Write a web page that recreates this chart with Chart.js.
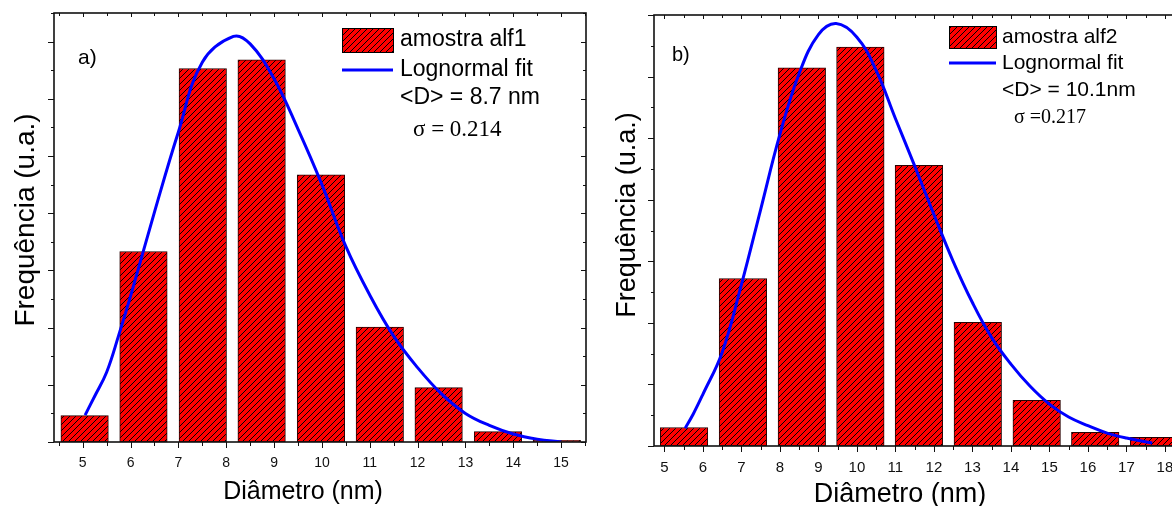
<!DOCTYPE html>
<html>
<head>
<meta charset="utf-8">
<script src="https://cdn.jsdelivr.net/npm/chart.js@4.4.0/dist/chart.umd.min.js"></script>
<style>
  html, body { margin: 0; padding: 0; background: #fff; overflow: hidden; width: 1172px; height: 506px; }
  .panel { position: absolute; top: 0; width: 600px; height: 506px; }
  #panelA { left: 0; }
  #panelB { left: 600px; }
</style>
</head>
<body>
<div class="panel" id="panelA"><canvas id="chartA" width="600" height="506"></canvas></div>
<div class="panel" id="panelB"><canvas id="chartB" width="600" height="506"></canvas></div>
<script>
// a) amostra alf1: histogram bins (nm) and counts (u.a.)
const diamA = [5.04, 6.27, 7.51, 8.74, 9.98, 11.21, 12.44, 13.68, 14.91];
const freqA = [0.46, 3.33, 6.53, 6.68, 4.67, 2.01, 0.95, 0.18, 0.03];
// lognormal fit curve for alf1
const fitXA = [5.05, 5.25, 5.5, 5.75, 6.0, 6.5, 7.0, 7.5, 8.15, 8.5, 9.0, 9.5, 10.0, 10.5, 11.0, 11.5, 12.0, 12.5, 13.0, 13.5, 14.0, 14.5, 15.0];
const fitYA = [0.47, 0.8, 1.22, 1.86, 2.55, 4.02, 5.42, 6.64, 7.09, 6.96, 6.35, 5.47, 4.5, 3.42, 2.57, 1.85, 1.3, 0.84, 0.5, 0.29, 0.14, 0.05, 0.0];
const ticksA = [5, 6, 7, 8, 9, 10, 11, 12, 13, 14, 15];

// b) amostra alf2
const diamB = [5.51, 7.04, 8.57, 10.09, 11.61, 13.14, 14.67, 16.19, 17.72];
const freqB = [0.30, 2.72, 6.14, 6.48, 4.56, 2.01, 0.74, 0.22, 0.14];
const fitXB = [5.54, 5.75, 6.0, 6.5, 7.0, 7.5, 8.0, 8.5, 9.0, 9.46, 10.0, 10.5, 11.0, 11.5, 12.0, 12.5, 13.0, 13.5, 14.0, 14.5, 15.0, 15.5, 16.0, 16.5, 17.0, 17.67];
const fitYB = [0.29, 0.52, 0.84, 1.52, 2.62, 3.84, 5.06, 6.05, 6.68, 6.86, 6.64, 6.1, 5.32, 4.55, 3.76, 3.0, 2.33, 1.76, 1.33, 0.97, 0.68, 0.47, 0.33, 0.21, 0.13, 0.05];
const ticksB = [5, 6, 7, 8, 9, 10, 11, 12, 13, 14, 15, 16, 17, 18];

const SANS = '"Liberation Sans", Arial, sans-serif';
const SERIF = '"Liberation Serif", "Times New Roman", serif';

// red fill with black /// hatching
function hatchPattern() {
  const c = document.createElement('canvas');
  c.width = 6; c.height = 6;
  const g = c.getContext('2d');
  g.fillStyle = '#ff0000';
  g.fillRect(0, 0, 6, 6);
  g.strokeStyle = '#000';
  g.lineWidth = 1;
  g.beginPath();
  g.moveTo(0, 6); g.lineTo(6, 0);
  g.moveTo(-1, 1); g.lineTo(1, -1);
  g.moveTo(5, 7); g.lineTo(7, 5);
  g.stroke();
  return g.createPattern(c, 'repeat');
}

// box frame, outward ticks bottom/left, inward mirror ticks top/right
const axesFrame = {
  id: 'axesFrame',
  afterDatasetsDraw(chart, args, o) {
    const { ctx, chartArea: { left, right, top, bottom }, scales: { x, y } } = chart;
    const r = v => Math.round(v) + 0.5;
    ctx.save();
    ctx.strokeStyle = o.color;
    ctx.lineWidth = 1;
    ctx.beginPath();
    const xMajor = x.ticks.map(t => t.value);
    const xMinor = [];
    xMajor.forEach(v => [v - 0.5, v + 0.5].forEach(m => {
      if (m >= x.min && m <= x.max && !xMinor.includes(m)) xMinor.push(m);
    }));
    const yMajor = [], yMinor = [];
    for (let v = y.min; v <= y.max + 1e-9; v += 1) yMajor.push(v);
    for (let v = y.min + 0.5; v <= y.max + 1e-9; v += 1) yMinor.push(v);
    const xTick = (v, outLen, inLen) => {
      const p = r(x.getPixelForValue(v));
      ctx.moveTo(p, bottom); ctx.lineTo(p, bottom + outLen);
      ctx.moveTo(p, top); ctx.lineTo(p, top + inLen);
    };
    const yTick = (v, outLen, inLen) => {
      const p = r(y.getPixelForValue(v));
      ctx.moveTo(left, p); ctx.lineTo(left - outLen, p);
      ctx.moveTo(right, p); ctx.lineTo(right - inLen, p);
    };
    xMajor.forEach(v => xTick(v, 6, 4));
    xMinor.forEach(v => xTick(v, 4, 3));
    yMajor.forEach(v => yTick(v, 6, 5));
    yMinor.forEach(v => yTick(v, 3, 3));
    ctx.stroke();
    ctx.lineWidth = o.lineWidth;
    ctx.strokeRect(left, top, right - left, bottom - top);
    ctx.restore();
  }
};

// legend block, panel letter and axis titles
const notes = {
  id: 'notes',
  afterDraw(chart, args, o) {
    const ctx = chart.ctx;
    const bars = chart.data.datasets[0];
    const fit = chart.data.datasets[1];
    ctx.save();
    ctx.fillStyle = bars.backgroundColor;
    ctx.fillRect(o.keyX, o.swatchY, o.keyW, o.swatchH);
    ctx.strokeStyle = '#000';
    ctx.lineWidth = 1;
    ctx.strokeRect(o.keyX + 0.5, o.swatchY + 0.5, o.keyW, o.swatchH);
    ctx.strokeStyle = fit.borderColor;
    ctx.lineWidth = fit.borderWidth;
    ctx.beginPath();
    ctx.moveTo(o.keyX, o.rows[1]);
    ctx.lineTo(o.keyX + o.keyW, o.rows[1]);
    ctx.stroke();

    ctx.fillStyle = '#000';
    ctx.textBaseline = 'middle';
    ctx.textAlign = 'left';
    ctx.font = o.legendSize + 'px ' + SANS;
    ctx.fillText(bars.label, o.textX, o.rows[0]);
    ctx.fillText(fit.label, o.textX, o.rows[1]);
    ctx.fillText(o.mean, o.textX, o.rows[2]);
    ctx.font = o.sigmaSize + 'px ' + SERIF;
    ctx.fillText(o.sigma, o.sigmaX, o.rows[3]);

    ctx.font = o.letterSize + 'px ' + SANS;
    ctx.fillText(o.letter, o.letterX, o.letterY);

    ctx.textAlign = 'center';
    ctx.font = o.xTitleSize + 'px ' + SANS;
    ctx.fillText('Diâmetro (nm)', o.xTitleX, o.xTitleY);
    ctx.translate(o.yTitleX, o.yTitleY);
    ctx.rotate(-Math.PI / 2);
    ctx.font = o.yTitleSize + 'px ' + SANS;
    ctx.fillText('Frequência (u.a.)', 0, 0);
    ctx.restore();
  }
};

function makePanel(id, p) {
  const chart = new Chart(document.getElementById(id), {
    type: 'bar',
    data: {
      datasets: [{
        label: p.sample,
        data: p.diam.map((d, i) => ({ x: d, y: p.freq[i] })),
        backgroundColor: hatchPattern(),
        borderColor: '#2a0000',
        borderWidth: 1,
        borderSkipped: false,
        barPercentage: 1,
        categoryPercentage: 1,
        order: 1
      }, {
        type: 'line',
        label: 'Lognormal fit',
        data: p.fitX.map((d, i) => ({ x: d, y: p.fitY[i] })),
        borderColor: '#0000ff',
        borderWidth: 3,
        pointRadius: 0,
        tension: 0.4,
        fill: false,
        order: 0
      }]
    },
    options: {
      responsive: false,
      animation: false,
      devicePixelRatio: 1,
      layout: { padding: p.padding },
      plugins: {
        legend: { display: false },
        tooltip: { enabled: false },
        axesFrame: { color: '#111', lineWidth: 1.6 },
        notes: p.notes
      },
      scales: {
        x: {
          type: 'linear',
          min: p.xMin,
          max: p.xMax,
          offset: false,
          afterBuildTicks: s => { s.ticks = p.ticks.map(v => ({ value: v })); },
          afterFit: s => { s.height = p.xAxisHeight; },
          ticks: { font: { family: SANS, size: p.tickSize }, color: '#111', padding: 13, maxRotation: 0 },
          grid: { display: false, drawTicks: false },
          border: { display: false }
        },
        y: { display: false, min: 0, max: p.yMax }
      }
    },
    plugins: [axesFrame, notes]
  });
  // bar width is a fixed share of the bin spacing
  const s = chart.scales.x;
  const bin = p.diam[1] - p.diam[0];
  chart.data.datasets[0].barThickness = (s.getPixelForValue(bin) - s.getPixelForValue(0)) * 0.807;
  chart.update();
  return chart;
}

makePanel('chartA', {
  sample: 'amostra alf1', diam: diamA, freq: freqA, fitX: fitXA, fitY: fitYA, ticks: ticksA,
  xMin: 4.4, xMax: 15.52, yMax: 7.5, tickSize: 14, xAxisHeight: 64,
  padding: { left: 54, top: 13, right: 14, bottom: 0 },
  notes: {
    keyX: 342, keyW: 51, swatchY: 28, swatchH: 24, textX: 400, rows: [40, 70, 98, 130],
    legendSize: 23, mean: '<D> = 8.7 nm', sigma: 'σ = 0.214', sigmaX: 413, sigmaSize: 23,
    letter: 'a)', letterX: 78, letterY: 58, letterSize: 21,
    xTitleX: 303, xTitleY: 492, xTitleSize: 25, yTitleX: 26, yTitleY: 220, yTitleSize: 28
  }
});

makePanel('chartB', {
  sample: 'amostra alf2', diam: diamB, freq: freqB, fitX: fitXB, fitY: fitYB, ticks: ticksB,
  xMin: 4.73, xMax: 18.6, yMax: 7, tickSize: 15, xAxisHeight: 60,
  padding: { left: 54, top: 15, right: 12, bottom: 0 },
  notes: {
    keyX: 349, keyW: 47, swatchY: 26, swatchH: 22, textX: 402, rows: [37, 63, 90, 118],
    legendSize: 21, mean: '<D> = 10.1nm', sigma: 'σ =0.217', sigmaX: 414, sigmaSize: 20,
    letter: 'b)', letterX: 72, letterY: 55, letterSize: 20,
    xTitleX: 300, xTitleY: 495, xTitleSize: 27, yTitleX: 28, yTitleY: 215, yTitleSize: 27
  }
});
</script>
</body>
</html>
